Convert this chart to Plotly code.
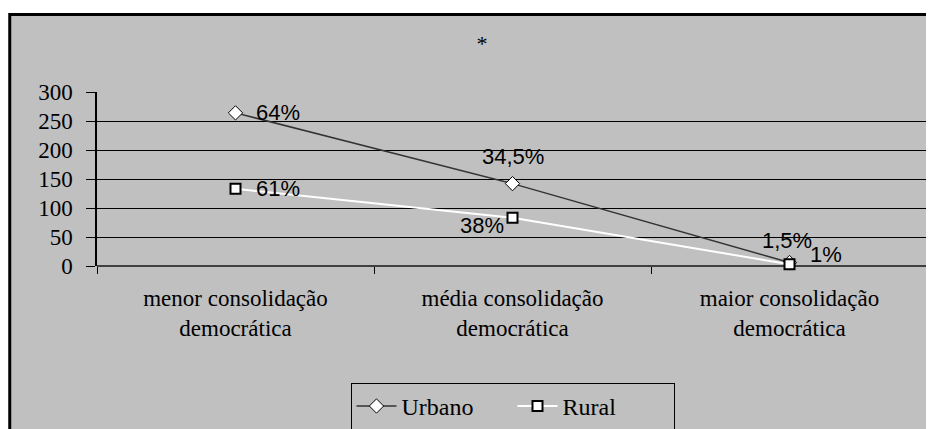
import plotly.graph_objects as go

# categorias e valores
categorias = ["menor consolidação<br>democrática",
              "média consolidação<br>democrática",
              "maior consolidação<br>democrática"]
urbano = [264, 142, 6]
rural = [133, 83, 3]
rotulos_urbano = ["64%", "34,5%", "1,5%"]
rotulos_rural = ["61%", "38%", "1%"]

SERIF = "Liberation Serif, Times New Roman, serif"
SANS = "Liberation Sans, Arial, sans-serif"
CINZA = "#c0c0c0"

# a página tem 8px de margem no body: a figura fica deslocada 8px
W, H = 926, 421

fig = go.Figure()

fig.add_trace(go.Scatter(
    x=categorias, y=urbano, mode="lines+markers", name="Urbano",
    line=dict(color="#333333", width=1.5),
    marker=dict(symbol="diamond", size=11, color="white",
                line=dict(color="black", width=1)),
    cliponaxis=False
))
fig.add_trace(go.Scatter(
    x=categorias, y=rural, mode="lines+markers", name="Rural",
    line=dict(color="white", width=2),
    marker=dict(symbol="square", size=10, color="white",
                line=dict(color="black", width=2)),
    cliponaxis=False
))

# rótulos de dados (posição relativa a cada ponto)
desloc_urbano = [("left", 18, 0), ("center", 0, 27), ("center", -3, 22)]
desloc_rural = [("left", 18, 0), ("right", -7, -8), ("left", 18, 10)]
for serie, rotulos, desloc in [(urbano, rotulos_urbano, desloc_urbano),
                               (rural, rotulos_rural, desloc_rural)]:
    for cat, val, txt, (anc, dx, dy) in zip(categorias, serie, rotulos, desloc):
        fig.add_annotation(x=cat, y=val, text=txt, showarrow=False,
                           xanchor=anc, yanchor="middle", xshift=dx, yshift=dy,
                           font=dict(family=SANS, size=22, color="black"))

# fundo cinza da área do gráfico com borda preta
fig.add_shape(type="rect", xref="paper", yref="paper",
              x0=-0.105, x1=1.02, y0=-1.0, y1=1.445,
              fillcolor=CINZA, line=dict(color="black", width=3),
              layer="below")

fig.update_layout(
    width=W, height=H,
    margin=dict(l=89, r=6, t=84, b=163, autoexpand=False),
    paper_bgcolor="white",
    plot_bgcolor=CINZA,
    title=dict(text="*", x=474 / W, y=1 - 35 / H, xref="container",
               yref="container", xanchor="center", yanchor="middle",
               font=dict(family=SERIF, size=22, color="black"),
               automargin=False),
    showlegend=True,
    legend=dict(orientation="h", x=0.5, xanchor="center",
                y=-0.672, yanchor="top",
                bgcolor=CINZA, bordercolor="black", borderwidth=1,
                font=dict(family=SERIF, size=24, color="black"),
                itemwidth=40, entrywidth=106, tracegroupgap=0),
    xaxis=dict(
        type="category", range=[-0.5, 2.5], autorange=False,
        tickson="boundaries", ticks="outside",
        ticklen=7, tickcolor="black", tickwidth=1,
        showline=False, showgrid=False, zeroline=False,
        tickfont=dict(family=SERIF, size=23, color="black"),
        ticklabelstandoff=16, fixedrange=True, automargin=False
    ),
    yaxis=dict(
        range=[0, 300], autorange=False, dtick=50, ticks="outside", ticklen=9,
        tickcolor="black", tickwidth=1,
        showline=True, linecolor="black", linewidth=1.5,
        showgrid=True, gridcolor="black", gridwidth=1,
        zeroline=True, zerolinecolor="#404040", zerolinewidth=2,
        tickfont=dict(family=SERIF, size=23, color="black"),
        ticklabelstandoff=9, fixedrange=True, automargin=False
    ),
)

fig.write_html("out.html")
